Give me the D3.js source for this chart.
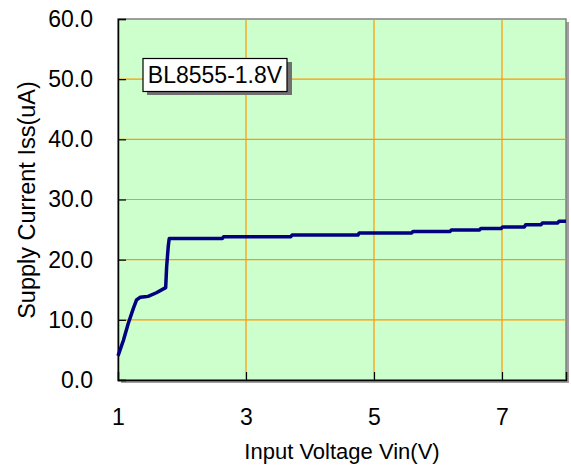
<!DOCTYPE html>
<html lang="en">
<head>
  <meta charset="UTF-8">
  <script src="https://d3js.org/d3.v7.min.js"></script>
  <style>
    body { margin: 0; background: #fff; }
    text { font-family: "Liberation Sans", Arial, sans-serif; fill: #000; }
  </style>
  <title>BL8555-1.8V</title>
</head>
<body>
  <svg id="chart" width="571" height="468"></svg>
  <script>
    // readings: input voltage (V) and supply current (uA)
    var vin = [1.00, 1.085, 1.16, 1.24, 1.29, 1.345, 1.42, 1.47, 1.60, 1.745, 1.76, 1.785, 1.80,
               2.63, 2.65, 3.70, 3.72, 4.75, 4.77, 5.59, 5.61, 6.19, 6.21, 6.65, 6.67,
               6.99, 7.01, 7.35, 7.37, 7.61, 7.63, 7.87, 7.89, 8.00];
    var iss = [4.0, 6.6, 9.4, 11.9, 13.3, 13.75, 13.85, 13.9, 14.5, 15.35, 18.8, 22.2, 23.5,
               23.5, 23.8, 23.8, 24.1, 24.1, 24.45, 24.45, 24.7, 24.7, 24.95, 24.95, 25.2,
               25.2, 25.45, 25.45, 25.8, 25.8, 26.1, 26.1, 26.4, 26.4];
    var xTicks = [1, 3, 5, 7];
    var yTicks = [0, 10, 20, 30, 40, 50, 60];
    var label = 'BL8555-1.8V';

    var L = 118, R = 566, T = 19, B = 380;
    var svg = d3.select('#chart');
    var x = d3.scaleLinear().domain([1, 8]).range([L, R]);
    var y = d3.scaleLinear().domain([0, 60]).range([B, T]);

    // plot area with a little shadow
    svg.append('rect').attr('x', L + 3).attr('y', T + 3).attr('width', R - L).attr('height', B - T)
      .attr('fill', '#a0a0a0');
    svg.append('rect').attr('x', L).attr('y', T).attr('width', R - L).attr('height', B - T)
      .attr('fill', '#ccffcc').attr('stroke', '#808080').attr('stroke-width', 1.5);

    // grid
    svg.selectAll('.gy').data(yTicks.filter(d => d > 0 && d < 60)).enter().append('line')
      .attr('x1', L).attr('x2', R).attr('y1', d => y(d)).attr('y2', d => y(d))
      .attr('stroke', '#ff9900').attr('stroke-width', 1.2);
    svg.selectAll('.gx').data(xTicks.filter(d => d > 1)).enter().append('line')
      .attr('y1', T).attr('y2', B).attr('x1', d => x(d)).attr('x2', d => x(d))
      .attr('stroke', '#ff9900').attr('stroke-width', 1.2);

    // axes, ticks pointing in
    var yAxis = d3.axisLeft(y).tickValues(yTicks).tickSize(-8).tickPadding(25).tickFormat(d3.format('.1f'));
    var gy = svg.append('g').attr('transform', 'translate(' + L + ',0)').call(yAxis);
    var xAxis = d3.axisBottom(x).tickValues(xTicks).tickSize(-8).tickPadding(29).tickFormat(d3.format('d'));
    var gx = svg.append('g').attr('transform', 'translate(0,' + B + ')').call(xAxis);
    [gx, gy].forEach(g => {
      g.select('.domain').attr('stroke', '#000').attr('stroke-width', 1.5);
      g.selectAll('.tick line').attr('stroke', '#000').attr('stroke-width', 1.2);
      g.selectAll('.tick text').style('font-size', '23px').attr('font-family', null);
    });
    gx.selectAll('.tick').filter(d => d === 1).select('line').remove();

    // curve
    var line = d3.line().x((d, i) => x(vin[i])).y(d => y(d));
    svg.append('path').datum(iss).attr('d', line)
      .attr('fill', 'none').attr('stroke', '#000080').attr('stroke-width', 3.5)
      .attr('stroke-linejoin', 'round');

    // label box
    svg.append('rect').attr('x', 147).attr('y', 62).attr('width', 145).attr('height', 33).attr('fill', '#707070');
    svg.append('rect').attr('x', 143).attr('y', 58.5).attr('width', 144).attr('height', 33)
      .attr('fill', '#fff').attr('stroke', '#000').attr('stroke-width', 1.2);
    svg.append('text').attr('x', 215).attr('y', 83).attr('text-anchor', 'middle')
      .style('font-size', '23px').text(label);

    // axis titles
    svg.append('text').attr('x', 342).attr('y', 459).attr('text-anchor', 'middle')
      .style('font-size', '22px').text('Input Voltage Vin(V)');
    svg.append('text').attr('transform', 'translate(35,200) rotate(-90)').attr('text-anchor', 'middle')
      .style('font-size', '23.5px').text('Supply Current Iss(uA)');
  </script>
</body>
</html>
